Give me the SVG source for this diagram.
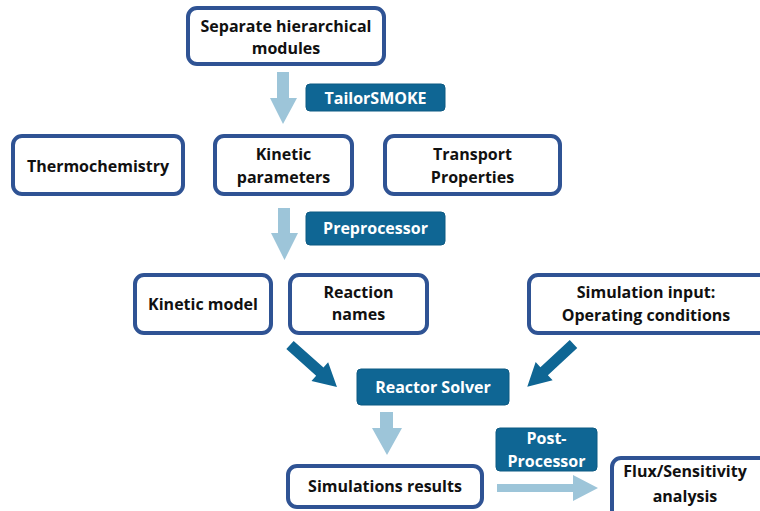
<svg xmlns="http://www.w3.org/2000/svg" width="760" height="511" viewBox="0 0 760 511">
<style>
.box{fill:#ffffff;stroke:#2f5394;stroke-width:4}
.lab{fill:#0f6694;stroke:#0d5a83;stroke-width:1}
.t{font-family:"Open Sans","Liberation Sans",sans-serif;font-weight:bold;font-size:16px;fill:#111111;text-anchor:middle}
.w{fill:#ffffff}
.la{fill:#9dc5d9}
.da{fill:#0f6694}
</style>
<rect width="760" height="511" fill="#ffffff"/>
<g id="connectors">
<polygon class="la" points="277,72 289,72 289,98 297,98 283,124 270,98 277,98"/>
<polygon class="la" points="278,208 290,208 290,233 298,233 284.5,260 271,233 278,233"/>
<polygon class="la" points="380,412 393,412 393,428 402,428 387,455 372,428 380,428"/>
<polygon class="la" points="497,484 573,484 573,475 598,488 573,501 573,492 497,492"/>
<polygon class="da" transform="translate(290,345) rotate(41.8)" points="0,-5.5 40,-5.5 40,-12.5 63,0 40,12.5 40,5.5 0,5.5"/>
<polygon class="da" transform="translate(573.5,344) rotate(137.2)" points="0,-5.5 40,-5.5 40,-12.5 63,0 40,12.5 40,5.5 0,5.5"/>
</g>
<g id="separate">
<rect class="box" x="188" y="8" width="196" height="56" rx="9"/>
<text class="t" x="286" y="32">Separate hierarchical</text>
<text class="t" x="286" y="54">modules</text>
</g>
<g id="tailorsmoke">
<rect class="lab" x="306" y="84" width="139" height="27" rx="4"/>
<text class="t w" x="375.5" y="104">TailorSMOKE</text>
</g>
<g id="thermochemistry">
<rect class="box" x="13" y="136" width="170" height="58" rx="9"/>
<text class="t" x="98" y="172">Thermochemistry</text>
</g>
<g id="kinetic-parameters">
<rect class="box" x="215" y="136" width="137" height="58" rx="9"/>
<text class="t" x="283.5" y="160">Kinetic</text>
<text class="t" x="283.5" y="183">parameters</text>
</g>
<g id="transport">
<rect class="box" x="385" y="136" width="175" height="58" rx="9"/>
<text class="t" x="472.5" y="160">Transport</text>
<text class="t" x="472.5" y="183">Properties</text>
</g>
<g id="preprocessor">
<rect class="lab" x="306" y="212" width="139" height="33" rx="4"/>
<text class="t w" x="375.5" y="234">Preprocessor</text>
</g>
<g id="kinetic-model">
<rect class="box" x="135" y="275" width="136" height="58" rx="9"/>
<text class="t" x="203" y="310">Kinetic model</text>
</g>
<g id="reaction-names">
<rect class="box" x="290" y="275" width="137" height="58" rx="9"/>
<text class="t" x="358.5" y="298">Reaction</text>
<text class="t" x="358.5" y="320">names</text>
</g>
<g id="simulation-input">
<rect class="box" x="529" y="275" width="240" height="58" rx="9"/>
<text class="t" x="646" y="298">Simulation input:</text>
<text class="t" x="646" y="321">Operating conditions</text>
</g>
<g id="reactor-solver">
<rect class="lab" x="357" y="369" width="152" height="36" rx="4"/>
<text class="t w" x="433" y="393">Reactor Solver</text>
</g>
<g id="simulations-results">
<rect class="box" x="288" y="466" width="194" height="41" rx="9"/>
<text class="t" x="385" y="492">Simulations results</text>
</g>
<g id="post-processor">
<rect class="lab" x="496" y="428" width="101" height="43" rx="4"/>
<text class="t w" x="546.5" y="444">Post-</text>
<text class="t w" x="546.5" y="467">Processor</text>
</g>
<g id="flux">
<rect class="box" x="612" y="458" width="170" height="70" rx="9"/>
<text class="t" x="685" y="477">Flux/Sensitivity</text>
<text class="t" x="685" y="502">analysis</text>
</g>
</svg>
